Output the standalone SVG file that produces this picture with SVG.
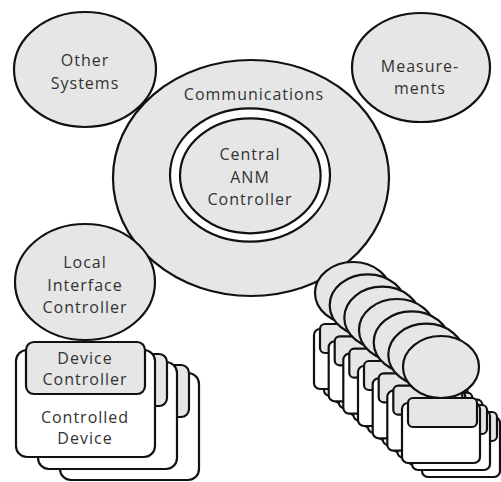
<svg xmlns="http://www.w3.org/2000/svg" width="501" height="482" viewBox="0 0 501 482">
<style>
.sh{stroke:#111;stroke-width:2.2;}
.g{fill:#e6e6e6;}
.w{fill:#ffffff;}
.t{font-family:"Open Sans","Liberation Sans",sans-serif;font-size:16px;fill:#333;text-anchor:middle;letter-spacing:1px;}
</style>
<defs>
  <g id="mini-layer">
    <rect class="sh w" x="-39" y="36" width="78" height="60" rx="6"/>
    <rect class="sh g" x="-33" y="31" width="69" height="29" rx="5"/>
  </g>
  <g id="mini-unit">
    <use href="#mini-layer" transform="translate(20,14)"/>
    <use href="#mini-layer" transform="translate(10,7)"/>
    <use href="#mini-layer"/>
    <ellipse class="sh g" cx="0" cy="0" rx="38" ry="31"/>
  </g>
  <g id="dev-layer">
    <rect class="sh w" x="16" y="350" width="139" height="107" rx="11"/>
    <rect class="sh g" x="26" y="342" width="119" height="52" rx="8"/>
  </g>
</defs>
<rect width="501" height="482" fill="#ffffff"/>
<g id="connectors"></g>
<g id="other-systems">
  <ellipse class="sh g" cx="85" cy="69.5" rx="71" ry="57.5"/>
  <text class="t" x="85" y="66">Other</text>
  <text class="t" x="85" y="88.5">Systems</text>
</g>
<g id="measurements">
  <ellipse class="sh g" cx="421" cy="67.5" rx="69" ry="54.5"/>
  <text class="t" x="420" y="72">Measure-</text>
  <text class="t" x="420" y="94">ments</text>
</g>
<g id="communications">
  <ellipse class="sh g" cx="251" cy="178" rx="138" ry="118"/>
  <text class="t" x="254" y="100">Communications</text>
</g>
<g id="central-anm-controller">
  <ellipse class="sh w" cx="250" cy="175" rx="80" ry="66.7"/>
  <ellipse class="sh g" cx="250.3" cy="175.8" rx="70.3" ry="57.5"/>
  <text class="t" x="250" y="160">Central</text>
  <text class="t" x="250" y="183">ANM</text>
  <text class="t" x="250" y="205">Controller</text>
</g>
<g id="local-interface-controller">
  <ellipse class="sh g" cx="85" cy="282" rx="70" ry="58"/>
  <text class="t" x="85" y="268">Local</text>
  <text class="t" x="85" y="290.5">Interface</text>
  <text class="t" x="85" y="312.5">Controller</text>
</g>
<g id="controlled-devices">
  <use href="#dev-layer" transform="translate(44,23)"/>
  <use href="#dev-layer" transform="translate(22,12)"/>
  <g id="controlled-device">
    <rect class="sh w" x="16" y="350" width="139" height="107" rx="11"/>
    <text class="t" x="85" y="423">Controlled</text>
    <text class="t" x="85" y="444">Device</text>
  </g>
  <g id="device-controller">
    <rect class="sh g" x="26" y="342" width="119" height="52" rx="8"/>
    <text class="t" x="85" y="364">Device</text>
    <text class="t" x="85" y="385">Controller</text>
  </g>
</g>
<g id="remote-units">
  <g id="remote-unit-7"><use href="#mini-unit" transform="translate(353,293)"/></g>
  <g id="remote-unit-6"><use href="#mini-unit" transform="translate(367.7,305.3)"/></g>
  <g id="remote-unit-5"><use href="#mini-unit" transform="translate(382.3,317.7)"/></g>
  <g id="remote-unit-4"><use href="#mini-unit" transform="translate(397,330)"/></g>
  <g id="remote-unit-3"><use href="#mini-unit" transform="translate(411.7,342.3)"/></g>
  <g id="remote-unit-2"><use href="#mini-unit" transform="translate(426.3,354.7)"/></g>
  <g id="remote-unit-1"><use href="#mini-unit" transform="translate(441,367)"/></g>
</g>
</svg>
